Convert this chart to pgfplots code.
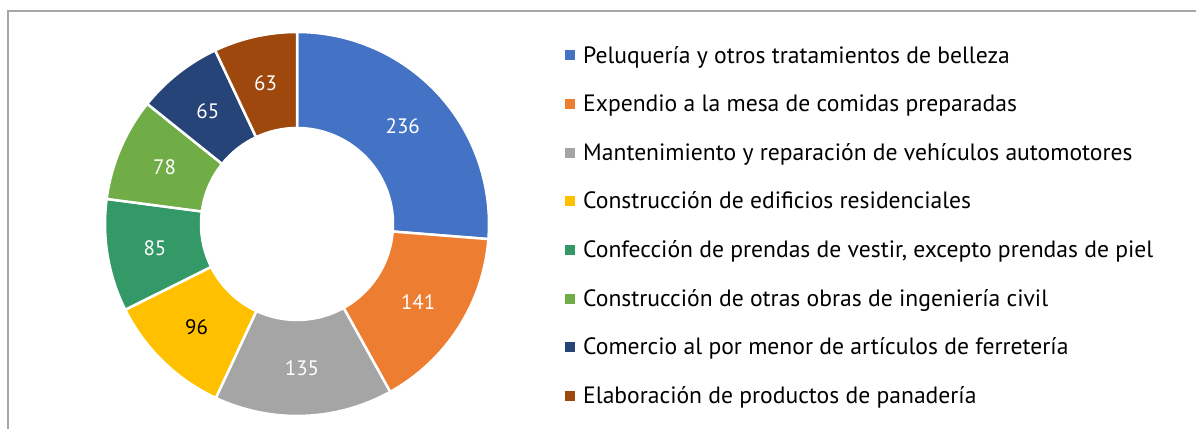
\documentclass[border=0pt]{standalone}
\usepackage{pgfplots}
\usepackage{pgfplotstable}
\pgfplotsset{compat=1.18}
\usepackage{fontspec}
\setmainfont{PT Sans}
\definecolor{c0}{HTML}{4472C4}
\definecolor{c1}{HTML}{ED7D31}
\definecolor{c2}{HTML}{A5A5A5}
\definecolor{c3}{HTML}{FFC000}
\definecolor{c4}{HTML}{339966}
\definecolor{c5}{HTML}{70AD47}
\definecolor{c6}{HTML}{264478}
\definecolor{c7}{HTML}{9E480E}
\definecolor{framegray}{HTML}{A6A6A6}
\newcommand\legfont{\fontsize{23.7}{28}\selectfont}
\newcommand\labfont{\fontsize{21}{25}\selectfont}
\pgfplotstableread{
idx value
0 236
1 141
2 135
3 96
4 85
5 78
6 65
7 63
}\data
\begin{document}
\begin{tikzpicture}
\useasboundingbox (0,0) rectangle (1196bp,429bp);
% compute angles from the table
\gdef\total{0}
\pgfplotsforeachungrouped \i in {0,...,7}{%
  \pgfplotstablegetelem{\i}{value}\of\data
  \pgfmathsetmacro\tmp{\total+\pgfplotsretval}%
  \xdef\total{\tmp}%
}
\gdef\cum{0}
\pgfplotsforeachungrouped \i in {0,...,7}{%
  \pgfplotstablegetelem{\i}{value}\of\data
  \let\v\pgfplotsretval
  \pgfmathsetmacro\as{90-360*(\cum/\total)}%
  \pgfmathsetmacro\newcum{\cum+\v}%
  \pgfmathsetmacro\ae{90-360*(\newcum/\total)}%
  \pgfmathsetmacro\am{(\as+\ae)/2}%
  \pgfmathtruncatemacro\vi{\v}%
  \expandafter\xdef\csname as\i\endcsname{\as}%
  \expandafter\xdef\csname ae\i\endcsname{\ae}%
  \expandafter\xdef\csname am\i\endcsname{\am}%
  \expandafter\xdef\csname v\i\endcsname{\vi}%
  \xdef\cum{\newcum}%
}
\expandafter\gdef\csname tc0\endcsname{white}
\expandafter\gdef\csname tc1\endcsname{white}
\expandafter\gdef\csname tc2\endcsname{white}
\expandafter\gdef\csname tc3\endcsname{black}
\expandafter\gdef\csname tc4\endcsname{white}
\expandafter\gdef\csname tc5\endcsname{white}
\expandafter\gdef\csname tc6\endcsname{white}
\expandafter\gdef\csname tc7\endcsname{white}
\begin{axis}[
  at={(0,0)}, anchor=south west,
  scale only axis, width=1196bp, height=429bp,
  xmin=0, xmax=1196, ymin=0, ymax=429,
  hide axis, clip=false,
  legend style={at={(axis cs:565,385)}, anchor=north west, draw=none, fill=none,
    font=\legfont, row sep=26.2bp, inner sep=0pt,
    legend cell align=left},
  legend image code/.code={\fill[#1] (0bp,-5bp) rectangle (10bp,5bp); \path (16bp,0bp);},
]
\draw[framegray, line width=1.5bp] (axis cs:8,0) -- (axis cs:8,418) -- (axis cs:1196,418);
\pgfplotsinvokeforeach{0,...,7}{%
  \edef\temp{\noexpand\filldraw[fill=c#1, draw=white, line width=2.5bp, line join=miter]
    ([shift={(\csname as#1\endcsname:192bp)}]axis cs:297,205)
    arc[start angle=\csname as#1\endcsname, end angle=\csname ae#1\endcsname, radius=192bp]
    -- ([shift={(\csname ae#1\endcsname:96bp)}]axis cs:297,205)
    arc[start angle=\csname ae#1\endcsname, end angle=\csname as#1\endcsname, radius=96bp]
    -- cycle;}%
  \temp
}
\pgfplotsinvokeforeach{0,...,7}{%
  \edef\temp{\noexpand\node[text=\csname tc#1\endcsname, font=\noexpand\labfont]
    at ([shift={(\csname am#1\endcsname:144bp)}]axis cs:297,205) {\csname v#1\endcsname};}%
  \temp
}
\addlegendimage{fill=c0, draw=none}
\addlegendentry{Peluquería y otros tratamientos de belleza}
\addlegendimage{fill=c1, draw=none}
\addlegendentry{Expendio a la mesa de comidas preparadas}
\addlegendimage{fill=c2, draw=none}
\addlegendentry{Mantenimiento y reparación de vehículos automotores}
\addlegendimage{fill=c3, draw=none}
\addlegendentry{Construcción de edificios residenciales}
\addlegendimage{fill=c4, draw=none}
\addlegendentry{Confección de prendas de vestir, excepto prendas de piel}
\addlegendimage{fill=c5, draw=none}
\addlegendentry{Construcción de otras obras de ingeniería civil}
\addlegendimage{fill=c6, draw=none}
\addlegendentry{Comercio al por menor de artículos de ferretería}
\addlegendimage{fill=c7, draw=none}
\addlegendentry{Elaboración de productos de panadería}
\end{axis}
\end{tikzpicture}
\end{document}
